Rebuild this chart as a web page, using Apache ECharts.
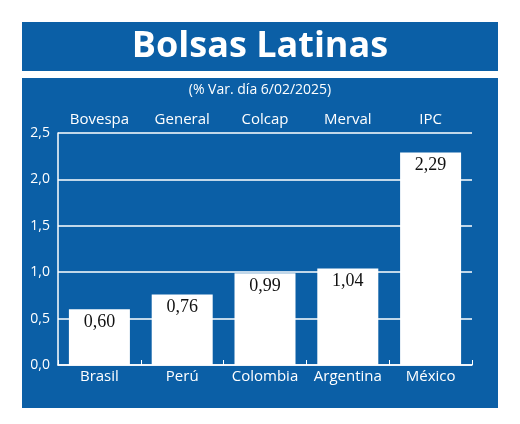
<!DOCTYPE html>
<html><head><meta charset="utf-8">
<script src="https://cdn.jsdelivr.net/npm/echarts@6/dist/echarts.min.js"></script>
<style>html,body{margin:0;padding:0;background:#fff}#c{width:520px;height:424px}</style>
</head><body><div id="c"></div>
<script>
const countries = ['Brasil','Perú','Colombia','Argentina','México'];
const indices = ['Bovespa','General','Colcap','Merval','IPC'];
const values = [0.60, 0.76, 0.99, 1.04, 2.29];
const BLUE = '#0b5fa6';
const chart = echarts.init(document.getElementById('c'));
const fmt = v => v.toFixed(2).replace('.', ',');
chart.setOption({
  backgroundColor: '#fff',
  animation: false,
  graphic: [
    {type:'rect', shape:{x:22,y:22,width:476,height:49}, style:{fill:BLUE}, z:-10},
    {type:'rect', shape:{x:22,y:78,width:476,height:330}, style:{fill:BLUE}, z:-10},
    {type:'text', x:260, y:47, style:{text:'Bolsas Latinas', fill:'#fff', font:'bold 36px "Open Sans", sans-serif', align:'center', verticalAlign:'middle'}},
    {type:'text', x:260, y:90, style:{text:'(% Var. día 6/02/2025)', fill:'#fff', font:'14px "Open Sans", sans-serif', align:'center', verticalAlign:'middle'}}
  ],
  grid: {left:58, right:48, top:133, bottom:59},
  xAxis: [
    {type:'category', data:countries, position:'bottom',
     axisLine:{lineStyle:{color:'#fff', width:1.5}},
     axisTick:{show:true, lineStyle:{color:'#fff'}, length:5, inside:true},
     axisLabel:{color:'#fff', fontSize:15, fontFamily:'"Open Sans", sans-serif', margin:4, interval:0}},
    {type:'category', data:indices, position:'top',
     axisLine:{show:false}, axisTick:{show:false},
     axisLabel:{color:'#fff', fontSize:15, fontFamily:'"Open Sans", sans-serif', margin:6, interval:0}}
  ],
  yAxis: {type:'value', min:0, max:2.5, interval:0.5,
    axisLine:{show:true, lineStyle:{color:'#fff', width:1.5}},
    axisTick:{show:false},
    splitLine:{lineStyle:{color:'#fff', width:1.5}},
    axisLabel:{color:'#fff', fontSize:14, fontFamily:'"Open Sans", sans-serif', formatter:v=>v.toFixed(1).replace('.',','), margin:8}},
  series: [{type:'bar', data:values, barWidth:61, xAxisIndex:0,
    itemStyle:{color:'#fff'},
    label:{show:true, position:'insideTop', distance:4, color:'#111', fontSize:18, fontFamily:'"Liberation Serif", serif', formatter:p=>fmt(p.value)}}]
});
</script></body></html>
